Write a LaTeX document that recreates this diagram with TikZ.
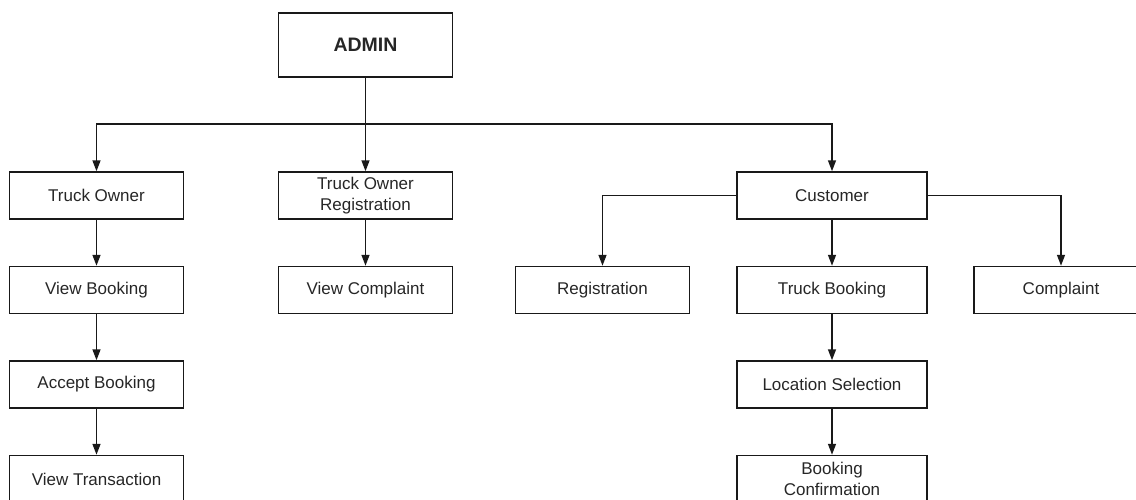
\documentclass[tikz,border=0pt]{standalone}
\usepackage{fontspec}
\setmainfont{Liberation Sans}
\usetikzlibrary{arrows.meta,positioning,calc}
\tikzset{every picture/.style={line width=1.5pt}}

\begin{document}
\begin{tikzpicture}[x=1pt,y=-1pt,
    box/.style={draw=black!90, minimum width=174pt, minimum height=47pt, inner sep=0pt,
        align=center, text=black!85, font=\fontsize{17}{20.5}\selectfont},
    widebox/.style={box, minimum width=190pt},
    arr/.style={-{Triangle[length=11pt,width=8pt]}, draw=black!90}]
    \useasboundingbox (0,0) rectangle (1136,499);
    \clip (0,0) rectangle (1136,499);

    % Top
    \node[box, minimum height=64pt, font=\fontsize{19.5}{23}\selectfont\bfseries] (admin) at (365.5,45) {ADMIN};

    % First row
    \node[box] (towner) at (96.5,195.5) {Truck Owner};
    \node[box] (toreg) at (365.5,195.5) {Truck Owner\\Registration};
    \node[widebox] (cust) at (832,195.5) {Customer};

    % Truck owner column
    \node[box] (vbook) at (96.5,290) {View Booking};
    \node[box] (abook) at (96.5,384.5) {Accept Booking};
    \node[box] (vtrans) at (96.5,479) {View Transaction};

    % Registration column
    \node[box] (vcompl) at (365.5,290) {View Complaint};

    % Customer column
    \node[box] (reg) at (602.5,290) {Registration};
    \node[widebox] (tbook) at (832,290) {Truck Booking};
    \node[box] (compl) at (1061,290) {Complaint};
    \node[widebox] (locsel) at (832,384.5) {Location Selection};
    \node[widebox] (bconf) at (832,479) {Booking\\Confirmation};

    % Links from admin
    \coordinate (bus) at (365.5,124);
    \draw[arr] (admin) -- (toreg);
    \draw[arr] (bus) -| (towner);
    \draw[arr] (bus) -| (cust);

    % Links from customer
    \draw[arr] (cust.west) -| (reg);
    \draw[arr] (cust.east) -| (compl);
    \draw[arr] (cust) -- (tbook);
    \draw[arr] (tbook) -- (locsel);
    \draw[arr] (locsel) -- (bconf);

    % Truck owner chain
    \draw[arr] (towner) -- (vbook);
    \draw[arr] (vbook) -- (abook);
    \draw[arr] (abook) -- (vtrans);
    \draw[arr] (toreg) -- (vcompl);
\end{tikzpicture}
\end{document}
